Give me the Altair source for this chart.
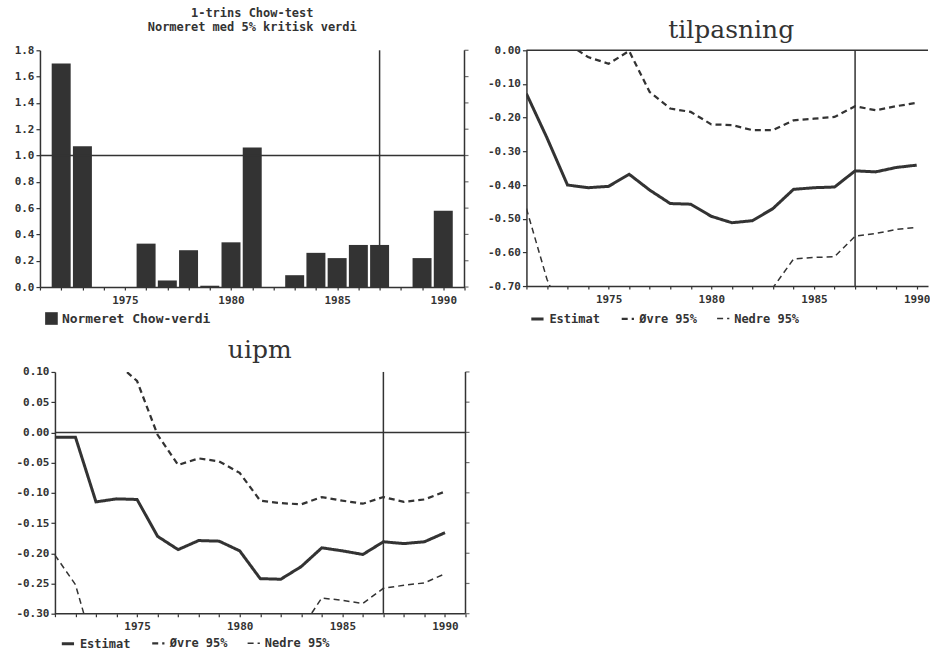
import altair as alt
import pandas as pd

# ---------------- data ----------------
bar_years = list(range(1972, 1991))
chow_values = [1.70, 1.07, 0.00, 0.00, 0.33, 0.05, 0.28, 0.01, 0.34, 1.06,
               0.00, 0.09, 0.26, 0.22, 0.32, 0.32, 0.00, 0.22, 0.58]
chow_label = "Normeret Chow-verdi"

line_years = list(range(1971, 1991))
tilp_est = [-0.129, -0.26, -0.40, -0.408, -0.404, -0.368, -0.415, -0.455, -0.457, -0.493,
            -0.512, -0.506, -0.47, -0.413, -0.408, -0.406, -0.358, -0.361, -0.348, -0.341]
tilp_upper = [0.21, 0.16, 0.02, -0.02, -0.04, -0.002, -0.124, -0.173, -0.183, -0.22,
              -0.222, -0.237, -0.237, -0.208, -0.203, -0.198, -0.166, -0.178, -0.166, -0.156]
tilp_lower = [-0.47, -0.68, -0.82, -0.80, -0.77, -0.73, -0.71, -0.74, -0.73, -0.77,
              -0.80, -0.78, -0.705, -0.62, -0.615, -0.613, -0.552, -0.544, -0.532, -0.526]

uipm_est = [-0.008, -0.008, -0.115, -0.110, -0.111, -0.172, -0.194, -0.179, -0.180, -0.196,
            -0.242, -0.243, -0.222, -0.191, -0.196, -0.202, -0.181, -0.184, -0.181, -0.166]
uipm_upper = [0.19, 0.24, 0.14, 0.115, 0.085, -0.004, -0.054, -0.043, -0.048, -0.067,
              -0.113, -0.117, -0.119, -0.107, -0.113, -0.118, -0.107, -0.115, -0.111, -0.098]
uipm_lower = [-0.203, -0.252, -0.37, -0.335, -0.307, -0.34, -0.334, -0.315, -0.312, -0.325,
              -0.371, -0.369, -0.325, -0.274, -0.278, -0.283, -0.258, -0.253, -0.249, -0.234]

series_names = ["Estimat", "Øvre 95%", "Nedre 95%"]
break_year = [1987]
chow_critical = [1.0]
zero_line = [0.0]

x_ticks_full = list(range(1971, 1992))
x_ticks_cut = list(range(1971, 1991))
chow_y_ticks = [0.0, 0.2, 0.4, 0.6, 0.8, 1.0, 1.2, 1.4, 1.6, 1.8]
tilp_y_ticks = [0.0, -0.1, -0.2, -0.3, -0.4, -0.5, -0.6, -0.7]
uipm_y_ticks = [0.10, 0.05, 0.0, -0.05, -0.10, -0.15, -0.20, -0.25, -0.30]

title_chow = ["1-trins Chow-test", "Normeret med 5% kritisk verdi"]
title_tilp = "tilpasning"
title_uipm = "uipm"

# ---------------- style ----------------
DARK = "#333333"
MONO = "DejaVu Sans Mono"
SERIF = "DejaVu Serif"
MINUS_FIX = "replace(datum.label, '\u2212', '-')"


def make_x(domain, ticks, show_domain=True):
    return alt.X("year:Q", scale=alt.Scale(domain=domain, nice=False, zero=False, padding=0),
                 title=None,
                 axis=alt.Axis(values=ticks, title=None, grid=False, tickSize=3, domain=show_domain,
                               labelExpr="datum.value % 5 == 0 ? '' + datum.value : ''",
                               labelOverlap=False, labelFlush=False, labelPadding=4))


def make_y(domain, ticks, fmt, extent, offset=0):
    return alt.Y("value:Q", scale=alt.Scale(domain=domain, nice=False, zero=False, padding=0),
                 title=None,
                 axis=alt.Axis(values=ticks, format=fmt, title=None, grid=False, tickSize=4,
                               labelExpr=MINUS_FIX, labelOverlap=False, labelFlush=False,
                               minExtent=extent, maxExtent=extent, offset=offset))


def right_side(xenc, yenc, xmax, ticks):
    edge = alt.Chart(pd.DataFrame({"year": [xmax]})).mark_rule(
        color=DARK, strokeWidth=1.5).encode(x=xenc)
    tk = alt.Chart(pd.DataFrame({"year": [xmax] * len(ticks), "value": ticks})).mark_tick(
        orient="horizontal", size=4, thickness=1.2, xOffset=2, color=DARK).encode(x=xenc, y=yenc)
    return [edge, tk]


def long_df(est, up, lo):
    rows = []
    for name, vals in zip(series_names, [est, up, lo]):
        for yr, v in zip(line_years, vals):
            rows.append({"year": yr, "value": v, "series": name})
    return pd.DataFrame(rows)


def line_legend(lx, ly):
    return alt.Legend(title=None, orient="none", legendX=lx, legendY=ly, direction="horizontal",
                      symbolType="stroke", symbolSize=150, symbolStrokeColor=DARK,
                      labelFont=MONO, labelFontSize=12, labelFontWeight="bold",
                      labelColor=DARK, columnPadding=16)


# ---------------- panel A: Chow test bars ----------------
df_chow = pd.DataFrame({"year": bar_years, "value": chow_values, "label": chow_label})
xA = make_x([1971, 1991], x_ticks_full)
yA = make_y([0, 1.8], chow_y_ticks, ".1f", 36)

bars = alt.Chart(df_chow).mark_bar(size=19, color=DARK).encode(
    x=xA, y=yA,
    color=alt.Color("label:N", scale=alt.Scale(range=[DARK]),
                    legend=alt.Legend(title=None, orient="none", legendX=5, legendY=262,
                                      symbolType="square", symbolSize=160,
                                      symbolStrokeWidth=0, labelFont=MONO, labelFontSize=13,
                                      labelFontWeight="bold", labelColor=DARK)),
)
hA = alt.Chart(pd.DataFrame({"value": chow_critical})).mark_rule(color=DARK, strokeWidth=1.5).encode(y=yA)
vA = alt.Chart(pd.DataFrame({"year": break_year})).mark_rule(color=DARK, strokeWidth=1.5).encode(x=xA)

panelA = alt.layer(bars, hA, vA, *right_side(xA, yA, 1991, chow_y_ticks)).properties(
    width=425, height=237,
    title=alt.Title(title_chow, font=MONO, fontSize=12, fontWeight="bold", color=DARK,
                    anchor="middle", lineHeight=14, offset=10),
)


# ---------------- line panels ----------------
def line_panel(est, up, lo, ydom, yticks, title, width, height, xdom, xticks, lx, ly, extent,
               right, tdx, toff, yoffset=0, first_year=None):
    df = long_df(est, up, lo)
    xe = make_x(xdom, xticks, show_domain=first_year is None)
    ye = make_y(ydom, yticks, ".2f", extent, yoffset)
    lines = alt.Chart(df).mark_line(clip=True, color=DARK).encode(
        x=xe, y=ye,
        strokeDash=alt.StrokeDash("series:N",
                                  scale=alt.Scale(domain=series_names, range=[[1, 0], [6, 4], [6, 4]]),
                                  legend=line_legend(lx, ly)),
        strokeWidth=alt.StrokeWidth("series:N",
                                    scale=alt.Scale(domain=series_names, range=[3, 1.5, 1.5]),
                                    legend=line_legend(lx, ly)),
    )
    v = alt.Chart(pd.DataFrame({"year": break_year})).mark_rule(color=DARK, strokeWidth=1.5).encode(x=xe)
    if first_year is None:
        h = alt.Chart(pd.DataFrame({"value": zero_line})).mark_rule(color=DARK, strokeWidth=1.5).encode(y=ye)
    else:
        hdf = pd.DataFrame({"value": zero_line + [ydom[0]], "year": [first_year] * 2,
                            "year2": [xdom[1]] * 2})
        h = alt.Chart(hdf).mark_rule(color=DARK, strokeWidth=1.5).encode(y=ye, x=xe, x2="year2:Q")
    layers = [lines, h, v]
    if right:
        layers += right_side(xe, ye, xdom[1], yticks)
    return alt.layer(*layers).properties(
        width=width, height=height,
        title=alt.Title(title, font=SERIF, fontSize=25, fontWeight="normal", color=DARK,
                        anchor="middle", offset=toff, dx=tdx),
    )


panelB = line_panel(tilp_est, tilp_upper, tilp_lower, [-0.7, 0.0], tilp_y_ticks, title_tilp,
                    402, 236, [1971, 1990.55], x_ticks_cut, 3, 261, 42, False, 4, 1)
panelC = line_panel(uipm_est, uipm_upper, uipm_lower, [-0.3, 0.1], uipm_y_ticks, title_uipm,
                    426, 242, [1970.27, 1991], x_ticks_full, 20, 264, 36, True, 7, 3,
                    yoffset=-15, first_year=1971)

chart = alt.concat(
    panelA, panelB, panelC, columns=2, spacing={"row": 12, "column": 15},
).resolve_legend(
    color="independent", strokeDash="independent", strokeWidth="independent"
).resolve_scale(
    color="independent", strokeDash="independent", strokeWidth="independent"
).properties(
    padding={"left": 4, "top": 7, "right": 0, "bottom": 0},
    background="white",
).configure_view(stroke=None).configure_axis(
    domainColor=DARK, tickColor=DARK, labelColor=DARK, domainWidth=1.5, tickWidth=1.2,
    labelFont=MONO, labelFontSize=11, labelFontWeight="bold",
)

chart.save("out.html", embed_options={"renderer": "svg", "actions": False})
